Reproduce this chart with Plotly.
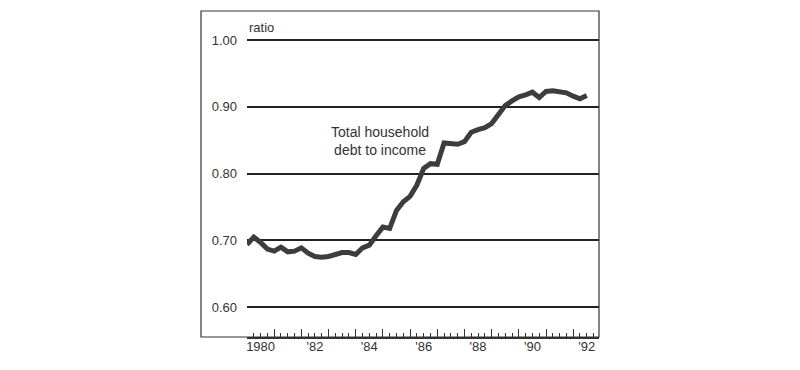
import plotly.graph_objects as go

# Quarterly ratio of total household debt to income, 1980Q1 - 1992Q3
start_year = 1980
ratio = [0.694, 0.705, 0.697, 0.687,
         0.684, 0.690, 0.683, 0.684,
         0.689, 0.681, 0.676, 0.675,
         0.676, 0.679, 0.682, 0.682,
         0.679, 0.689, 0.693, 0.707,
         0.720, 0.718, 0.745, 0.758,
         0.766, 0.783, 0.808, 0.815,
         0.814, 0.846, 0.845, 0.844,
         0.848, 0.862, 0.866, 0.869,
         0.875, 0.889, 0.902, 0.909,
         0.915, 0.918, 0.922, 0.914,
         0.923, 0.924, 0.923, 0.921,
         0.916, 0.912, 0.917]
quarters = [start_year + i / 4 for i in range(len(ratio))]

y_ticks = [0.60, 0.70, 0.80, 0.90, 1.00]
y_ticktext = ["0.60", "0.70", "0.80", "0.90", "1.00"]
year_ticks = list(range(1980, 1993))
label_pos = [1980.5, 1982.5, 1984.5, 1986.5, 1988.5, 1990.5, 1992.5]
label_text = ["1980", "'82", "'84", "'86", "'88", "'90", "'92"]

FONT = "Liberation Sans, Arial, Helvetica, sans-serif"
TXT = "#333333"

fig = go.Figure()
fig.add_trace(go.Scatter(x=quarters, y=ratio, mode="lines",
                         line=dict(color="#3d3d3d", width=5),
                         showlegend=False, hoverinfo="skip"))
# invisible trace to carry the label axis
fig.add_trace(go.Scatter(x=quarters, y=ratio, mode="lines", xaxis="x2",
                         line=dict(width=0, color="rgba(0,0,0,0)"),
                         showlegend=False, hoverinfo="skip"))

xr = [1980, 1992.95]
fig.update_layout(
    width=792, height=362,
    margin=dict(l=239, r=201, t=3, b=33),
    paper_bgcolor="white", plot_bgcolor="white",
    font=dict(family=FONT, color=TXT, size=13),
    xaxis=dict(range=xr, tickmode="array", tickvals=year_ticks,
               showticklabels=False, ticks="inside", ticklen=8, tickwidth=1.3,
               tickcolor="#333", showgrid=False, zeroline=False,
               showline=True, linecolor="#333", linewidth=1.5,
               minor=dict(dtick=0.25, tick0=1980, ticks="inside", ticklen=4,
                          tickwidth=1.2, tickcolor="#333", showgrid=False)),
    xaxis2=dict(range=xr, overlaying="x", anchor="y", side="bottom",
                tickmode="array", tickvals=label_pos, ticktext=label_text,
                ticks="", showgrid=False, zeroline=False, showline=False,
                tickfont=dict(size=13, color=TXT)),
    yaxis=dict(range=[0.5555, 1.0435], tickmode="array", tickvals=y_ticks,
               ticktext=y_ticktext, showgrid=True, gridcolor="#222",
               gridwidth=1.5, zeroline=False, showline=False, ticks="",
               ticklabelstandoff=9, tickfont=dict(size=13, color=TXT)),
    shapes=[dict(type="rect", xref="paper", yref="paper",
                 x0=(201 - 247) / 352, x1=1, y0=0, y1=1,
                 line=dict(color="#333", width=1.2), layer="above")],
    annotations=[
        dict(text="ratio", xref="paper", yref="paper", x=0.0, y=(337 - 27.5) / 326,
             xanchor="left", yanchor="middle", showarrow=False,
             font=dict(size=13, color=TXT)),
        dict(text="Total household<br>debt to income", xref="x", yref="y",
             x=1984.89, y=0.8486, xanchor="center", yanchor="middle",
             showarrow=False, font=dict(size=14, color=TXT)),
    ],
)

fig.write_html("out.html")
